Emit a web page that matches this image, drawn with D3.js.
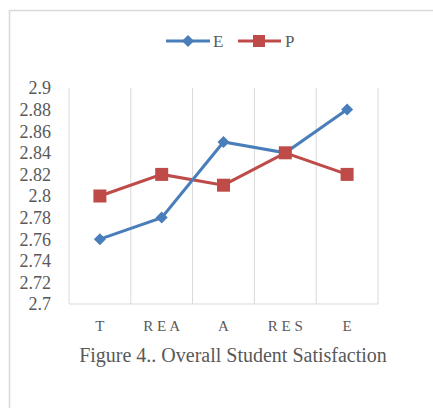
<!DOCTYPE html>
<html><head><meta charset="utf-8">
<script src="https://cdn.jsdelivr.net/npm/d3@7"></script>
<style>body{margin:0;background:#fff;}svg{display:block;}</style>
</head><body>
<script>
const categories = ["T", "R E A", "A", "R E S", "E"];
const seriesE = [2.76, 2.78, 2.85, 2.84, 2.88];
const seriesP = [2.80, 2.82, 2.81, 2.84, 2.82];
const yTicks = [2.7, 2.72, 2.74, 2.76, 2.78, 2.8, 2.82, 2.84, 2.86, 2.88, 2.9];
const caption = "Figure 4.. Overall Student Satisfaction";

(function(){
const W = 433, H = 408;
const svg = d3.select("body").append("svg").attr("width", W).attr("height", H);
const font = "'Liberation Serif', 'DejaVu Serif', serif";
const txt = "#595959";

// outer border
svg.append("path").attr("d", `M9.5,${H} V10.5 H${W}`).attr("fill","none").attr("stroke","#d9d9d9").attr("stroke-width",1.5);

const pL = 69, pR = 378, pT = 88, pB = 304;
const x = d3.scaleBand().domain(categories).range([pL, pR]);
const y = d3.scaleLinear().domain([2.7, 2.9]).range([pB, pT]);

// vertical gridlines
const bounds = categories.map(c => x(c)).concat([pR]);
svg.append("g").selectAll("line").data(bounds).join("line")
  .attr("x1", d => d).attr("x2", d => d).attr("y1", pT).attr("y2", pB)
  .attr("stroke", "#d9d9d9").attr("stroke-width", 1);
svg.append("line").attr("x1", pL).attr("x2", pR).attr("y1", pB).attr("y2", pB)
  .attr("stroke", "#d9d9d9").attr("stroke-width", 1.2);

// y labels
svg.append("g").selectAll("text").data(yTicks).join("text")
  .attr("x", 51).attr("y", d => y(d)).attr("dy", "0.35em")
  .attr("text-anchor", "end").attr("font-family", font).attr("font-size", 18).attr("fill", txt)
  .text(d => String(+d.toFixed(2)));

// x labels
svg.append("g").selectAll("text").data(categories).join("text")
  .attr("x", d => x(d) + x.bandwidth()/2).attr("y", 331)
  .attr("text-anchor", "middle").attr("font-family", font).attr("font-size", 15).attr("fill", txt)
  .text(d => d);

// caption
svg.append("text").attr("x", 233).attr("y", 362).attr("text-anchor", "middle")
  .attr("font-family", font).attr("font-size", 20).attr("fill", txt).text(caption);

const cx = (d, i) => x(categories[i]) + x.bandwidth()/2;
const line = d3.line().x((d, i) => cx(d, i)).y(d => y(d));

const blue = "#4a7ebb", red = "#be4b48";
svg.append("path").datum(seriesP).attr("d", line).attr("fill","none").attr("stroke", red).attr("stroke-width", 3);
svg.append("path").datum(seriesE).attr("d", line).attr("fill","none").attr("stroke", blue).attr("stroke-width", 3);

const diamond = d3.symbol().type(d3.symbolSquare).size(72);
svg.append("g").selectAll("path").data(seriesE).join("path")
  .attr("d", diamond()).attr("transform", (d, i) => `translate(${cx(d,i)},${y(d)}) rotate(45)`)
  .attr("fill", blue);
svg.append("g").selectAll("rect").data(seriesP).join("rect")
  .attr("x", (d, i) => cx(d,i) - 6.5).attr("y", d => y(d) - 6.5).attr("width", 13).attr("height", 13)
  .attr("fill", red);

// legend
const lg = svg.append("g");
lg.append("line").attr("x1", 166).attr("x2", 210).attr("y1", 41).attr("y2", 41).attr("stroke", blue).attr("stroke-width", 3);
lg.append("path").attr("d", diamond()).attr("transform", "translate(188,41) rotate(45)").attr("fill", blue);
lg.append("text").attr("x", 213).attr("y", 47).attr("font-family", font).attr("font-size", 17).attr("fill", txt).text("E");
lg.append("line").attr("x1", 238).attr("x2", 281).attr("y1", 41).attr("y2", 41).attr("stroke", red).attr("stroke-width", 3);
lg.append("rect").attr("x", 253).attr("y", 35).attr("width", 12).attr("height", 12).attr("fill", red);
lg.append("text").attr("x", 285).attr("y", 47).attr("font-family", font).attr("font-size", 17).attr("fill", txt).text("P");
})();
</script>
</body></html>
